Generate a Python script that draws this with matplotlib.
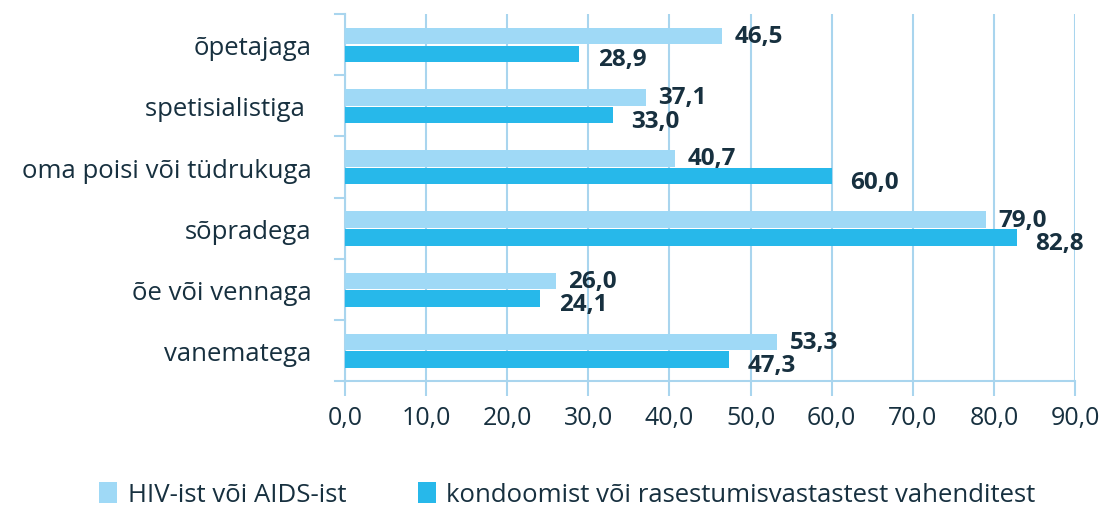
import numpy as np
from matplotlib import pyplot as plt

plt.rcParams['font.family'] = ['Open Sans', 'DejaVu Sans']

categories = ["õpetajaga", "spetisialistiga ", "oma poisi või tüdrukuga",
              "sõpradega", "õe või vennaga", "vanematega"]
hiv_values = [46.5, 37.1, 40.7, 79.0, 26.0, 53.3]
kondoom_values = [28.9, 33.0, 60.0, 82.8, 24.1, 47.3]
series_names = ["HIV-ist või AIDS-ist", "kondoomist või rasestumisvastastest vahenditest"]
xticks = np.arange(0, 91, 10)

LIGHT = "#9fd9f6"
DARK = "#27b8ea"
GRID = "#a9d5ee"
TEXT = "#17303f"


def fmt(v):
    return "{:.1f}".format(v).replace(".", ",")


def main():
    fig = plt.figure(figsize=(11.02, 5.06), dpi=100)
    ax = fig.add_axes([0.313, 0.245, 0.6625, 0.725])

    n = len(categories)
    y = np.arange(n)[::-1].astype(float)
    h = 0.27

    ax.barh(y + 0.14, hiv_values, height=h, color=LIGHT, label=series_names[0], zorder=3)
    ax.barh(y - 0.15, kondoom_values, height=h, color=DARK, label=series_names[1], zorder=3)

    for yi, v in zip(y, hiv_values):
        ax.text(v + 1.5, yi + 0.14, fmt(v), fontsize=17.5, fontweight='bold',
                color=TEXT, va='center', ha='left', zorder=4)
    for yi, v in zip(y, kondoom_values):
        ax.text(v + 2.3, yi - 0.24, fmt(v), fontsize=17.5, fontweight='bold',
                color=TEXT, va='center', ha='left', zorder=4)

    ax.set_xlim(0, 90)
    ax.set_ylim(-0.5, n - 0.5)
    ax.set_xticks(xticks)
    ax.set_xticklabels([fmt(t) for t in xticks], fontsize=18, color=TEXT)
    ax.set_yticks(y)
    ax.set_yticklabels(categories, fontsize=18.5, color=TEXT)
    ax.tick_params(axis='y', length=0, pad=24)
    ax.tick_params(axis='x', length=11, color=GRID, width=1.5, pad=6)

    # category separator ticks on the y axis
    for b in np.arange(-0.5, n, 1.0):
        ax.plot([-1.2, 0], [b, b], color=GRID, lw=1.5, clip_on=False, zorder=2)

    ax.grid(axis='x', color=GRID, lw=1.5, zorder=0)
    for side in ['top', 'right']:
        ax.spines[side].set_visible(False)
    ax.spines['left'].set_color(GRID)
    ax.spines['left'].set_linewidth(1.5)
    ax.spines['bottom'].set_color(GRID)
    ax.spines['bottom'].set_linewidth(1.5)

    fig.legend(loc='lower center', bbox_to_anchor=(0.515, -0.05), ncol=2,
               frameon=False, fontsize=18.5, handlelength=0.7, handleheight=0.9,
               handletextpad=0.4, columnspacing=2.8, labelcolor=TEXT)

    plt.savefig("out.png", dpi=100)
    plt.close()


if __name__ == "__main__":
    main()
